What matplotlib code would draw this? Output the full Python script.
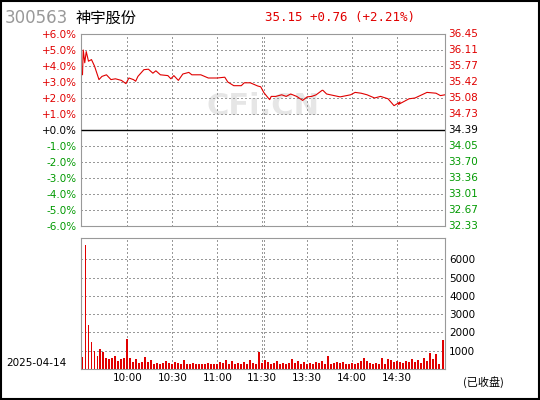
import matplotlib
matplotlib.use("Agg")
import matplotlib.pyplot as plt
from matplotlib.patches import Rectangle

plt.rcParams['font.family'] = ['DejaVu Sans', 'Noto Sans CJK SC']

base = 34.39
code = "300563"
name = "神宇股份"
headline = "35.15 +0.76 (+2.21%)"
date = "2025-04-14"
time_ticks = [30, 60, 90, 120, 150, 180, 210]
time_labels = ["10:00", "10:30", "11:00", "11:30", "13:30", "14:00", "14:30"]

# minute index and percent change
line_min = [0, 0.5, 1.5, 2.5, 4, 6, 8, 11, 13, 16, 19, 22, 26, 29, 31, 34, 35.5, 37,
            41, 44, 47, 49, 52, 57, 59, 61, 64, 67, 71, 73, 79, 84, 90, 95, 97, 101,
            106, 108, 112, 117, 119, 121, 124, 125, 126, 129, 133, 136, 139, 143, 147,
            150, 153, 156, 160, 160.5, 163, 168, 172, 179, 182, 186, 190, 195, 199, 204,
            208, 212, 211, 218, 222, 230, 236, 239, 242]
line_pct = [3.46, 5.0, 4.2, 4.9, 4.3, 4.4, 4.0, 3.15, 3.35, 3.45, 3.15, 3.2, 3.1, 2.9,
            3.25, 3.15, 3.05, 3.35, 3.77, 3.8, 3.55, 3.7, 3.45, 3.4, 3.2, 3.4, 3.1, 3.5,
            3.6, 3.45, 3.45, 3.25, 3.25, 3.3, 3.0, 2.77, 2.77, 2.95, 2.95, 2.75, 2.7,
            2.35, 2.0, 1.9, 2.1, 2.1, 2.2, 2.1, 2.25, 2.1, 1.85, 2.07, 2.1, 2.2, 2.48,
            2.48, 2.25, 2.15, 2.07, 2.2, 2.35, 2.3, 2.2, 2.0, 2.1, 1.95, 1.52, 1.75, 1.6,
            1.95, 2.0, 2.35, 2.3, 2.15, 2.2]

# volume, one bar every 2 minutes
vol = [650, 6800, 2400, 1500, 1000, 700, 1100, 950, 600, 550, 600, 700, 450, 550, 600,
       1650, 600, 400, 550, 350, 400, 650, 400, 500, 300, 350, 300, 350, 450, 350,
       250, 400, 350, 300, 500, 300, 250, 350, 300, 250, 300, 250, 350, 300, 250, 300,
       400, 350, 500, 300, 450, 300, 350, 250, 400, 300, 500, 350, 250, 950, 350, 500,
       400, 300, 350, 450, 300, 350, 300, 350, 550, 350, 450, 300, 400, 250, 350, 300,
       400, 350, 450, 300, 700, 300, 350, 400, 350, 400, 300, 300, 350, 300, 350, 450,
       600, 450, 350, 300, 350, 300, 600, 300, 550, 500, 400, 450, 400, 350, 450, 400,
       550, 400, 500, 350, 600, 450, 900, 550, 800, 300, 1600]
vol_min = [2 * i for i in range(len(vol))]
vol_min[-1] = 241

red = "#e00000"
green = "#009900"
grid_kw = dict(colors="#999999", linestyles=[(0, (1, 2))], linewidth=1.0, zorder=2.5,
               antialiased=False)
vlines = time_ticks + [121]
pcts = list(range(-6, 7))

fig = plt.figure(figsize=(5.4, 4), dpi=100)
fig.patches.append(Rectangle((0.002, 0.002), 0.996, 0.996, transform=fig.transFigure,
                             fill=False, edgecolor="black", linewidth=1.5))

bx = fig.add_axes([0.15, 0.0775, 0.674, 0.3275])
bx.set_xlim(-1, 242)
bx.set_ylim(0, 7160)
bx.hlines(range(1000, 7000, 1000), -1, 242, **grid_kw)
bx.vlines(vlines, 0, 7160, **grid_kw)
bx.bar(vol_min, vol, width=1.3, color=red, zorder=3)
bx.set_xticks(time_ticks)
bx.set_xticklabels(time_labels)
bx.yaxis.tick_right()
bx.set_yticks(range(1000, 7000, 1000))
bx.tick_params(length=0, labelsize=7.5, pad=3)
for s in bx.spines.values():
    s.set_color("#999999")

ax = fig.add_axes([0.15, 0.435, 0.674, 0.48])
ax.set_xlim(-1, 242)
ax.set_ylim(-6, 6)
ax.text(0.5, 0.62, "CFi.CN", transform=ax.transAxes, fontsize=22, color="#e6e6e6",
        fontweight="bold", ha="center", va="center", zorder=0.5)
ax.hlines(pcts, -1, 242, **grid_kw)
ax.vlines(vlines, -6, 6, **grid_kw)
ax.plot(line_min, line_pct, color=red, linewidth=0.8, zorder=3)
ax.hlines([0], -1, 242, colors="black", linewidth=1, zorder=3)
ax.set_yticks(pcts)
ax.set_yticklabels([f"{p:+.1f}%" if p else "+0.0%" for p in pcts])
for lab, p in zip(ax.get_yticklabels(), pcts):
    lab.set_color(red if p > 0 else (green if p < 0 else "black"))
ax.set_xticks([])
ax.tick_params(length=0, labelsize=7.5, pad=3)
for p in pcts:
    ax.text(1.008, p, f"{base * (1 + p / 100):.2f}", transform=ax.get_yaxis_transform(),
            fontsize=7.5, va="center", ha="left",
            color=red if p > 0 else (green if p < 0 else "black"))
for s in ax.spines.values():
    s.set_color("#999999")

fig.text(0.008, 0.955, code, fontsize=12, color="#999999", va="center")
fig.text(0.14, 0.955, name, fontsize=11, color="black", va="center",
         family=['Noto Sans CJK SC', 'DejaVu Sans'])
fig.text(0.49, 0.955, headline, fontsize=9, color=red, va="center", family="DejaVu Sans Mono")
fig.text(0.012, 0.092, date, fontsize=7.5, va="center")
fig.text(0.858, 0.045, "(已收盘)", fontsize=8, va="center",
         family=['Noto Sans CJK SC', 'DejaVu Sans'])

fig.savefig("out.png", dpi=100)
